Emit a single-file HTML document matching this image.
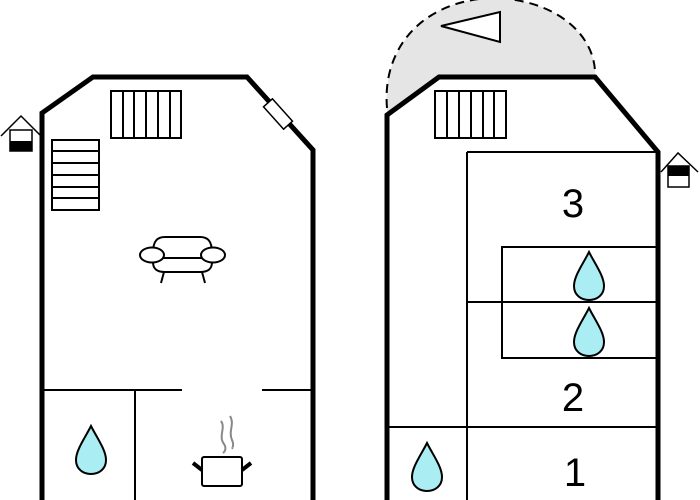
<!DOCTYPE html>
<html><head><style>body{margin:0;background:#fff}svg{display:block}</style></head><body>
<svg width="700" height="500" viewBox="0 0 700 500" xmlns="http://www.w3.org/2000/svg" font-family="Liberation Sans, sans-serif">
<defs>
<g id="drop"><path d="M0,-24 C-6,-12 -15,0 -15,10 C-15,19 -8,24 0,24 C8,24 15,19 15,10 C15,0 6,-12 0,-24Z" fill="#aaeef4" stroke="#000" stroke-width="2"/></g>
</defs>
<!-- LEFT BUILDING -->
<polyline points="42,500 42,113 93,77 247,77 313,150 313,500" fill="none" stroke="#000" stroke-width="5"/>
<g fill="none" stroke="#000" stroke-width="2">
<rect x="111" y="91" width="70" height="47"/>
<line x1="123" y1="91" x2="123" y2="138"/><line x1="134" y1="91" x2="134" y2="138"/><line x1="146" y1="91" x2="146" y2="138"/><line x1="158" y1="91" x2="158" y2="138"/><line x1="170" y1="91" x2="170" y2="138"/>
<rect x="52" y="140" width="47" height="70"/>
<line x1="52" y1="151" x2="99" y2="151"/><line x1="52" y1="163" x2="99" y2="163"/><line x1="52" y1="175" x2="99" y2="175"/><line x1="52" y1="187" x2="99" y2="187"/><line x1="52" y1="198" x2="99" y2="198"/>
</g>
<g transform="translate(278,114) rotate(48)"><rect x="-15" y="-6" width="30" height="12" fill="#fff" stroke="#000" stroke-width="1.5"/></g>
<!-- house icon left -->
<polyline points="1,136 21,116 41,136" fill="none" stroke="#000" stroke-width="1.5"/>
<rect x="10" y="130" width="22" height="21" fill="#fff" stroke="#000" stroke-width="1.5"/>
<rect x="10" y="141" width="22" height="10" fill="#000"/>
<!-- sofa -->
<g fill="#fff" stroke="#000" stroke-width="2">
<path d="M153,253 C153,240 158,237 165,237 L200,237 C207,237 212,240 212,253 L212,262 C212,270 207,272 200,272 L165,272 C158,272 153,270 153,262Z"/>
<line x1="158" y1="258" x2="207" y2="258"/>
<ellipse cx="152" cy="255" rx="12" ry="7.5"/>
<ellipse cx="213" cy="255" rx="12" ry="7.5"/>
<line x1="164" y1="272" x2="161" y2="283"/><line x1="202" y1="272" x2="205" y2="283"/>
</g>
<!-- bottom left rooms -->
<g stroke="#000" stroke-width="2">
<line x1="42" y1="390" x2="182" y2="390"/><line x1="262" y1="390" x2="313" y2="390"/>
<line x1="135" y1="390" x2="135" y2="500"/>
</g>
<use href="#drop" x="91" y="450"/>
<!-- pot -->
<g stroke="#000" stroke-width="2" fill="#fff">
<rect x="202" y="457" width="40" height="29" rx="2"/>
</g>
<g stroke="#000" stroke-width="4"><line x1="193" y1="463" x2="202" y2="470"/><line x1="251" y1="463" x2="242" y2="470"/></g>
<g fill="none" stroke="#888" stroke-width="2"><path d="M221,421 C226,428 218,436 224,444 C228,450 222,454 224,452"/><path d="M230,416 C235,424 228,431 232,440 C235,446 231,449 233,448"/></g>
<!-- RIGHT BUILDING -->
<path d="M387,112 C382,50 420,2 490,-2 C555,-2 597,35 595,77 L439,77 L387,115Z" fill="#e5e5e5"/>
<path d="M387,108 C382,50 420,2 490,-2 C555,-2 597,35 595,77" fill="none" stroke="#000" stroke-width="2" stroke-dasharray="9,6"/>
<polygon points="441,26 500,12 500,42" fill="#fff" stroke="#000" stroke-width="2"/>
<polyline points="387,500 387,115 439,77 595,77 658,152 658,500" fill="none" stroke="#000" stroke-width="5"/>
<g fill="none" stroke="#000" stroke-width="2">
<rect x="435" y="91" width="71" height="47"/>
<line x1="447" y1="91" x2="447" y2="138"/><line x1="459" y1="91" x2="459" y2="138"/><line x1="471" y1="91" x2="471" y2="138"/><line x1="483" y1="91" x2="483" y2="138"/><line x1="494" y1="91" x2="494" y2="138"/>
<line x1="467" y1="152" x2="658" y2="152"/>
<line x1="467" y1="152" x2="467" y2="500"/>
<line x1="467" y1="302" x2="658" y2="302"/>
<rect x="502" y="247" width="156" height="111"/>
<line x1="387" y1="427" x2="658" y2="427"/>
</g>
<use href="#drop" x="589" y="276"/>
<use href="#drop" x="589" y="332"/>
<use href="#drop" x="427" y="467"/>
<text x="573" y="217" font-size="40" text-anchor="middle">3</text>
<text x="573" y="411" font-size="40" text-anchor="middle">2</text>
<text x="575" y="486" font-size="40" text-anchor="middle">1</text>
<!-- house icon right -->
<polyline points="661,172 678,153 698,172" fill="none" stroke="#000" stroke-width="1.5"/>
<rect x="668" y="166" width="21" height="21" fill="#fff" stroke="#000" stroke-width="1.5"/>
<rect x="668" y="166" width="21" height="10" fill="#000"/>
</svg>
</body></html>
